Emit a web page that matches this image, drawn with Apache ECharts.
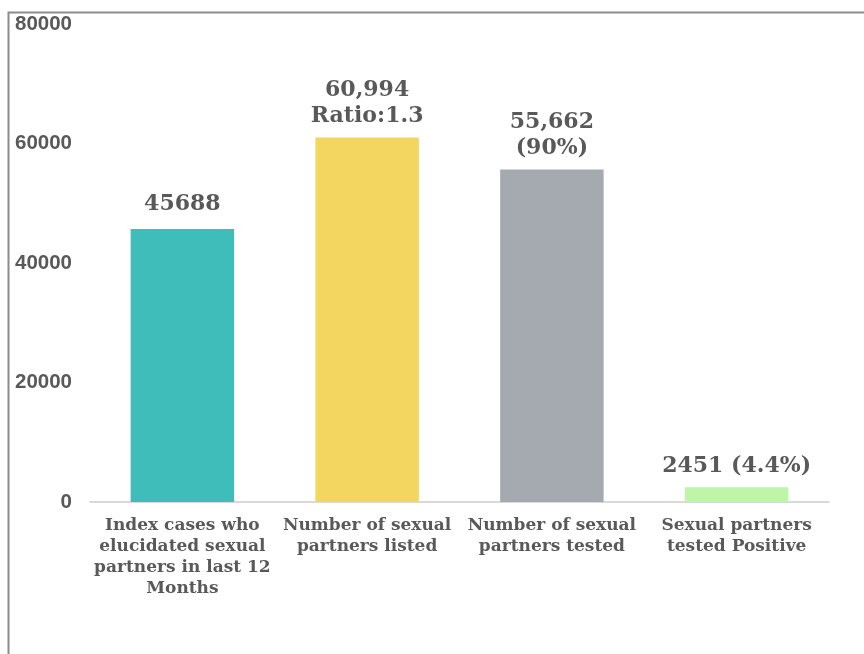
<!DOCTYPE html>
<html>
<head>
<meta charset="utf-8">
<script src="https://cdn.jsdelivr.net/npm/echarts@6/dist/echarts.min.js"></script>
<style>
html,body{margin:0;padding:0;background:#fff;}
#chart{width:864px;height:654px;}
</style>
</head>
<body>
<div id="chart"></div>
<script>
const categories = [
  "Index cases who\nelucidated sexual\npartners in last 12\nMonths",
  "Number of sexual\npartners listed",
  "Number of sexual\npartners tested",
  "Sexual partners\ntested Positive"
];
const values = [45688, 60994, 55662, 2451];
const valueLabels = ["45688", "60,994\nRatio:1.3", "55,662\n(90%)", "2451 (4.4%)"];
const barColors = ["#3FBDBA", "#F3D660", "#A5A9B0", "#BEF5A8"];
const yMin = 0, yMax = 80000, yStep = 20000;

const chart = echarts.init(document.getElementById('chart'));
chart.setOption({
  animation: false,
  backgroundColor: '#fff',
  graphic: [{
    type: 'rect',
    shape: { x: 8.5, y: 12.5, width: 900, height: 700 },
    style: { fill: 'none', stroke: '#8c8c8c', lineWidth: 2 },
    silent: true
  }],
  grid: { left: 90, right: 35, top: 24, bottom: 152, containLabel: false },
  xAxis: {
    type: 'category',
    data: categories,
    axisLine: { show: true, lineStyle: { color: '#d9d9d9', width: 2 } },
    axisTick: { show: false },
    axisLabel: {
      interval: 0,
      margin: 13,
      color: '#595959',
      fontFamily: 'DejaVu Serif',
      fontWeight: 'bold',
      fontSize: 17,
      lineHeight: 21
    }
  },
  yAxis: {
    type: 'value',
    min: yMin, max: yMax, interval: yStep,
    splitLine: { show: false },
    axisLine: { show: false },
    axisTick: { show: false },
    axisLabel: {
      margin: 18,
      color: '#595959',
      fontFamily: 'Liberation Sans',
      fontWeight: 'bold',
      fontSize: 20.5,
      formatter: v => String(v)
    }
  },
  series: [{
    type: 'bar',
    barWidth: '56%',
    data: values.map((v, i) => ({
      value: v,
      itemStyle: { color: barColors[i] },
      label: { formatter: valueLabels[i], distance: i === 0 ? 12 : 8 }
    })),
    label: {
      show: true,
      position: 'top',
      color: '#595959',
      fontFamily: 'DejaVu Serif',
      fontWeight: 'bold',
      fontSize: 22,
      lineHeight: 26
    }
  }]
});
</script>
</body>
</html>
